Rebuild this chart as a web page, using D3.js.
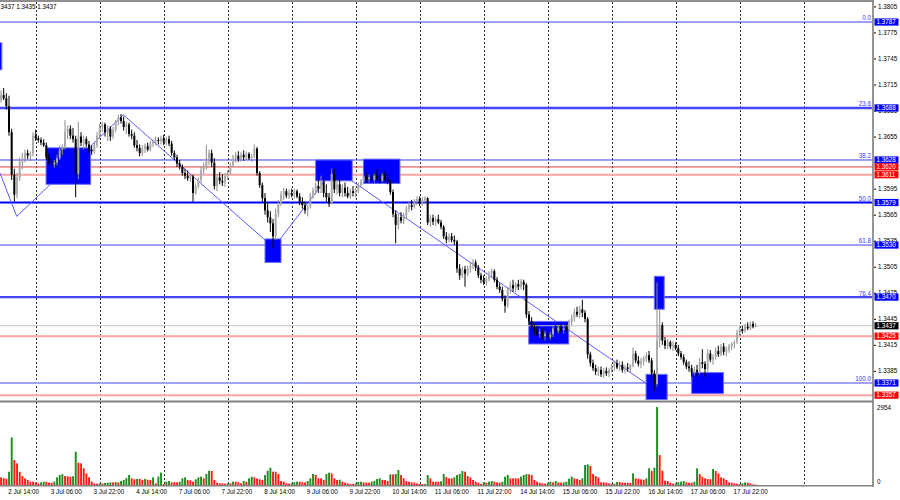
<!DOCTYPE html>
<html><head><meta charset="utf-8">
<script src="https://cdn.jsdelivr.net/npm/d3@7"></script>
<style>
html,body{margin:0;padding:0;background:#fff;}
svg{display:block;font-family:"Liberation Sans",Arial,sans-serif;}
</style></head><body>
<svg id="c" width="900" height="500"></svg>
<script>
// ---------------- DATA ----------------
const days = ["2 Jul","3 Jul","4 Jul","7 Jul","8 Jul","9 Jul","10 Jul","11 Jul","14 Jul","15 Jul","16 Jul","17 Jul","18 Jul"];
const firstHour = 11;
const timeLabels = ["2 Jul 14:00","3 Jul 06:00","3 Jul 22:00","4 Jul 14:00","7 Jul 06:00","7 Jul 22:00","8 Jul 14:00","9 Jul 06:00","9 Jul 22:00","10 Jul 14:00","11 Jul 06:00","11 Jul 22:00","14 Jul 14:00","15 Jul 06:00","15 Jul 22:00","16 Jul 14:00","17 Jul 06:00","17 Jul 22:00"];

const opens = [
1.3697,1.3703,1.3699,1.3690,1.3660,1.3611,1.3588,1.3608,1.3626,1.3630,1.3636,1.3633,1.3635,
1.3656,1.3653,1.3651,1.3648,1.3645,1.3631,1.3626,1.3623,1.3625,1.3630,1.3640,1.3642,1.3660,1.3664,1.3656,1.3652,1.3612,1.3655,1.3648,1.3652,1.3646,1.3640,1.3638,1.3645,
1.3656,1.3666,1.3669,1.3660,1.3664,1.3655,1.3663,1.3672,1.3677,1.3673,1.3666,1.3669,1.3658,1.3656,1.3645,1.3642,1.3636,1.3641,1.3644,1.3640,1.3647,1.3649,1.3651,1.3650,
1.3653,1.3649,1.3652,1.3647,1.3636,1.3631,1.3624,1.3620,1.3613,1.3610,1.3607,1.3609,1.3590,1.3598,1.3605,1.3616,1.3620,1.3630,1.3636,1.3625,1.3598,1.3608,1.3604,1.3602,
1.3610,1.3613,1.3622,1.3630,1.3633,1.3629,1.3634,1.3631,1.3635,1.3630,1.3632,1.3641,1.3613,1.3599,1.3584,1.3570,1.3562,1.3555,1.3540,1.3566,1.3578,1.3588,1.3592,1.3587,
1.3590,1.3588,1.3592,1.3586,1.3580,1.3576,1.3570,1.3574,1.3587,1.3593,1.3598,1.3595,1.3603,1.3590,1.3585,1.3578,1.3612,1.3594,1.3600,1.3590,1.3596,1.3590,1.3586,1.3592,
1.3590,1.3593,1.3599,1.3603,1.3609,1.3606,1.3608,1.3605,1.3610,1.3607,1.3604,1.3610,1.3606,1.3603,1.3591,1.3566,1.3553,1.3562,1.3558,1.3564,1.3572,1.3576,1.3574,1.3580,
1.3583,1.3578,1.3582,1.3584,1.3556,1.3561,1.3557,1.3560,1.3556,1.3551,1.3540,1.3536,1.3540,1.3536,1.3534,1.3503,1.3495,1.3502,1.3497,1.3503,1.3506,1.3510,1.3504,1.3495,
1.3490,1.3487,1.3491,1.3497,1.3500,1.3490,1.3482,1.3478,1.3468,1.3460,1.3478,1.3484,1.3480,1.3485,1.3482,1.3488,1.3484,1.3450,1.3442,1.3435,1.3431,1.3428,1.3430,1.3425,
1.3428,1.3424,1.3427,1.3434,1.3431,1.3435,1.3432,1.3434,1.3433,1.3441,1.3446,1.3453,1.3450,1.3456,1.3452,1.3445,1.3404,1.3394,1.3388,1.3384,1.3386,1.3381,1.3385,1.3382,
1.3386,1.3390,1.3394,1.3389,1.3392,1.3386,1.3389,1.3387,1.3391,1.3405,1.3397,1.3393,1.3396,1.3399,1.3403,1.3397,1.3382,1.3370,1.3420,1.3438,1.3420,1.3414,1.3418,1.3413,
1.3415,1.3411,1.3405,1.3401,1.3395,1.3390,1.3388,1.3383,1.3386,1.3384,1.3395,1.3393,1.3387,1.3405,1.3398,1.3401,1.3408,1.3404,1.3413,1.3407,1.3410,1.3413,1.3416,1.3418,
1.3429,1.3433,1.3431,1.3436,1.3434,1.3439,1.3436];
const highs = [
1.3708,1.3711,1.3705,1.3702,1.3664,1.3618,1.3613,1.3631,1.3636,1.3640,1.3640,1.3638,1.3660,
1.3663,1.3656,1.3654,1.3652,1.3648,1.3636,1.3630,1.3628,1.3634,1.3645,1.3646,1.3674,1.3668,1.3668,1.3665,1.3656,1.3672,1.3660,1.3656,1.3655,1.3650,1.3645,1.3648,1.3660,
1.3670,1.3672,1.3671,1.3668,1.3667,1.3666,1.3674,1.3680,1.3681,1.3678,1.3672,1.3671,1.3663,1.3660,1.3651,1.3646,1.3645,1.3647,1.3648,1.3650,1.3652,1.3655,1.3654,1.3656,
1.3657,1.3655,1.3656,1.3650,1.3639,1.3634,1.3628,1.3623,1.3618,1.3616,1.3612,1.3611,1.3601,1.3608,1.3620,1.3625,1.3645,1.3640,1.3640,1.3630,1.3612,1.3614,1.3612,1.3613,
1.3616,1.3625,1.3634,1.3637,1.3638,1.3637,1.3639,1.3638,1.3637,1.3635,1.3646,1.3643,1.3615,1.3602,1.3590,1.3578,1.3569,1.3560,1.3572,1.3582,1.3592,1.3596,1.3595,1.3594,
1.3595,1.3595,1.3594,1.3590,1.3585,1.3580,1.3576,1.3590,1.3596,1.3602,1.3605,1.3610,1.3608,1.3600,1.3590,1.3618,1.3618,1.3605,1.3606,1.3600,1.3602,1.3597,1.3595,1.3598,
1.3596,1.3602,1.3606,1.3612,1.3614,1.3611,1.3613,1.3612,1.3618,1.3612,1.3613,1.3615,1.3611,1.3605,1.3594,1.3570,1.3566,1.3568,1.3567,1.3575,1.3580,1.3582,1.3583,1.3586,
1.3586,1.3585,1.3586,1.3585,1.3565,1.3565,1.3563,1.3565,1.3559,1.3553,1.3545,1.3543,1.3544,1.3541,1.3536,1.3508,1.3505,1.3506,1.3506,1.3510,1.3514,1.3513,1.3507,1.3498,
1.3495,1.3494,1.3500,1.3503,1.3502,1.3493,1.3486,1.3482,1.3472,1.3482,1.3488,1.3490,1.3487,1.3490,1.3491,1.3490,1.3486,1.3454,1.3447,1.3440,1.3437,1.3434,1.3434,1.3431,
1.3433,1.3430,1.3437,1.3438,1.3437,1.3439,1.3437,1.3438,1.3444,1.3450,1.3457,1.3459,1.3460,1.3467,1.3455,1.3447,1.3407,1.3398,1.3392,1.3390,1.3390,1.3388,1.3389,1.3388,
1.3393,1.3397,1.3398,1.3396,1.3396,1.3392,1.3394,1.3393,1.3412,1.3408,1.3402,1.3400,1.3402,1.3406,1.3408,1.3400,1.3386,1.3487,1.3455,1.3441,1.3424,1.3422,1.3420,1.3419,
1.3418,1.3415,1.3408,1.3404,1.3398,1.3396,1.3392,1.3390,1.3392,1.3400,1.3410,1.3396,1.3410,1.3409,1.3404,1.3412,1.3414,1.3416,1.3417,1.3413,1.3416,1.3418,1.3420,1.3432,
1.3436,1.3437,1.3439,1.3441,1.3442,1.3442,1.3440];
const lows = [
1.3694,1.3697,1.3686,1.3656,1.3605,1.3580,1.3584,1.3604,1.3617,1.3625,1.3629,1.3627,1.3632,
1.3650,1.3648,1.3645,1.3643,1.3628,1.3622,1.3620,1.3619,1.3622,1.3628,1.3634,1.3640,1.3652,1.3652,1.3648,1.3585,1.3606,1.3644,1.3640,1.3643,1.3636,1.3634,1.3635,1.3642,
1.3652,1.3660,1.3655,1.3650,1.3650,1.3652,1.3660,1.3668,1.3670,1.3662,1.3658,1.3655,1.3652,1.3642,1.3638,1.3632,1.3633,1.3636,1.3638,1.3638,1.3643,1.3645,1.3646,1.3646,
1.3645,1.3645,1.3644,1.3633,1.3628,1.3620,1.3617,1.3610,1.3606,1.3604,1.3603,1.3580,1.3588,1.3595,1.3602,1.3612,1.3617,1.3622,1.3620,1.3594,1.3592,1.3600,1.3598,1.3597,
1.3605,1.3611,1.3620,1.3625,1.3626,1.3626,1.3627,1.3628,1.3628,1.3626,1.3630,1.3610,1.3596,1.3580,1.3565,1.3556,1.3545,1.3527,1.3536,1.3562,1.3575,1.3582,1.3584,1.3583,
1.3585,1.3584,1.3584,1.3576,1.3572,1.3566,1.3563,1.3572,1.3583,1.3588,1.3590,1.3590,1.3585,1.3580,1.3574,1.3577,1.3590,1.3588,1.3586,1.3585,1.3586,1.3584,1.3583,1.3586,
1.3585,1.3590,1.3596,1.3600,1.3603,1.3602,1.3603,1.3602,1.3604,1.3601,1.3602,1.3603,1.3600,1.3588,1.3562,1.3532,1.3548,1.3555,1.3554,1.3560,1.3568,1.3570,1.3572,1.3576,
1.3575,1.3575,1.3578,1.3553,1.3551,1.3553,1.3552,1.3554,1.3548,1.3537,1.3532,1.3533,1.3533,1.3530,1.3498,1.3490,1.3492,1.3482,1.3494,1.3498,1.3502,1.3500,1.3492,1.3486,
1.3484,1.3483,1.3488,1.3492,1.3487,1.3479,1.3475,1.3465,1.3452,1.3458,1.3474,1.3476,1.3476,1.3478,1.3479,1.3478,1.3446,1.3438,1.3431,1.3427,1.3425,1.3423,1.3422,1.3420,
1.3422,1.3421,1.3424,1.3428,1.3428,1.3429,1.3428,1.3430,1.3431,1.3437,1.3442,1.3447,1.3446,1.3447,1.3441,1.3399,1.3390,1.3385,1.3380,1.3379,1.3378,1.3377,1.3379,1.3378,
1.3383,1.3385,1.3387,1.3385,1.3383,1.3382,1.3384,1.3383,1.3389,1.3394,1.3390,1.3388,1.3391,1.3395,1.3394,1.3378,1.3363,1.3367,1.3412,1.3415,1.3410,1.3410,1.3410,1.3408,
1.3409,1.3402,1.3398,1.3392,1.3387,1.3384,1.3378,1.3380,1.3378,1.3381,1.3388,1.3378,1.3384,1.3395,1.3392,1.3398,1.3401,1.3402,1.3403,1.3402,1.3406,1.3409,1.3411,1.3416,
1.3425,1.3428,1.3429,1.3432,1.3432,1.3434,1.3435];
const closes = [
1.3703,1.3699,1.3690,1.3660,1.3611,1.3588,1.3608,1.3626,1.3630,1.3636,1.3633,1.3635,1.3656,
1.3653,1.3651,1.3648,1.3645,1.3631,1.3626,1.3623,1.3625,1.3630,1.3640,1.3642,1.3660,1.3664,1.3656,1.3652,1.3612,1.3655,1.3648,1.3652,1.3646,1.3640,1.3638,1.3645,1.3656,
1.3666,1.3669,1.3660,1.3664,1.3655,1.3663,1.3672,1.3677,1.3673,1.3666,1.3669,1.3658,1.3656,1.3645,1.3642,1.3636,1.3641,1.3644,1.3640,1.3647,1.3649,1.3651,1.3650,1.3653,
1.3649,1.3652,1.3647,1.3636,1.3631,1.3624,1.3620,1.3613,1.3610,1.3607,1.3609,1.3590,1.3598,1.3605,1.3616,1.3620,1.3630,1.3636,1.3625,1.3598,1.3608,1.3604,1.3602,1.3610,
1.3613,1.3622,1.3630,1.3633,1.3629,1.3634,1.3631,1.3635,1.3630,1.3632,1.3641,1.3613,1.3599,1.3584,1.3570,1.3562,1.3555,1.3540,1.3566,1.3578,1.3588,1.3592,1.3587,1.3590,
1.3588,1.3592,1.3586,1.3580,1.3576,1.3570,1.3574,1.3587,1.3593,1.3598,1.3595,1.3603,1.3590,1.3585,1.3578,1.3612,1.3594,1.3600,1.3590,1.3596,1.3590,1.3586,1.3592,1.3590,
1.3593,1.3599,1.3603,1.3609,1.3606,1.3608,1.3605,1.3610,1.3607,1.3604,1.3610,1.3606,1.3603,1.3591,1.3566,1.3553,1.3562,1.3558,1.3564,1.3572,1.3576,1.3574,1.3580,1.3583,
1.3578,1.3582,1.3584,1.3556,1.3561,1.3557,1.3560,1.3556,1.3551,1.3540,1.3536,1.3540,1.3536,1.3534,1.3503,1.3495,1.3502,1.3497,1.3503,1.3506,1.3510,1.3504,1.3495,1.3490,
1.3487,1.3491,1.3497,1.3500,1.3490,1.3482,1.3478,1.3468,1.3460,1.3478,1.3484,1.3480,1.3485,1.3482,1.3488,1.3484,1.3450,1.3442,1.3435,1.3431,1.3428,1.3430,1.3425,1.3428,
1.3424,1.3427,1.3434,1.3431,1.3435,1.3432,1.3434,1.3433,1.3441,1.3446,1.3453,1.3450,1.3456,1.3452,1.3445,1.3404,1.3394,1.3388,1.3384,1.3386,1.3381,1.3385,1.3382,1.3386,
1.3390,1.3394,1.3389,1.3392,1.3386,1.3389,1.3387,1.3391,1.3405,1.3397,1.3393,1.3396,1.3399,1.3403,1.3397,1.3382,1.3370,1.3420,1.3438,1.3420,1.3414,1.3418,1.3413,1.3415,
1.3411,1.3405,1.3401,1.3395,1.3390,1.3388,1.3383,1.3386,1.3384,1.3395,1.3393,1.3387,1.3405,1.3398,1.3401,1.3408,1.3404,1.3413,1.3407,1.3410,1.3413,1.3416,1.3418,1.3429,
1.3433,1.3431,1.3436,1.3434,1.3439,1.3436,1.3437];
const volumes = [
290,260,240,500,1800,945,820,500,340,250,190,130,125,
100,60,100,125,120,90,85,130,290,380,410,340,330,310,330,1260,845,820,630,440,290,130,60,50,
60,60,80,90,100,100,110,100,150,190,260,380,250,220,230,230,190,230,200,190,290,60,320,470,
40,126,151,100,100,100,126,252,290,189,180,126,214,290,315,252,416,540,530,189,88,63,63,50,
63,63,126,126,100,63,151,126,252,315,290,252,214,189,378,542,655,504,504,416,151,126,63,50,
63,100,126,126,100,100,151,252,416,378,252,252,189,416,466,441,252,189,200,126,88,63,40,40,
63,113,126,100,88,88,126,151,227,252,189,189,151,403,403,420,567,378,252,151,126,100,88,63,
38,38,40,378,252,126,126,126,140,416,300,252,252,290,378,416,529,504,340,290,189,126,88,38,
100,88,126,151,126,100,88,126,315,378,252,252,252,252,315,378,416,403,378,189,126,88,63,50,
75,126,100,151,100,88,100,126,240,315,252,227,189,252,756,781,718,416,340,290,100,100,88,63,
38,50,113,113,88,88,88,80,441,252,239,214,200,252,630,529,655,2954,1134,542,164,151,88,50,
63,100,126,151,100,88,88,126,630,416,315,252,227,220,605,529,441,290,252,189,100,88,63,50,
38,63,100,88,63,25,15];

const fibNames  = ["0.0","23.6","38.2","50.0","61.8","76.4","100.0"];
const fibLevels = [1.3787,1.3688,1.3628,1.3579,1.3530,1.3470,1.3371];
const redLevels = [1.3620,1.3611,1.3425,1.3357];
const bidPrice = 1.3437;
const priceTicks = [1.3805,1.3775,1.3745,1.3715,1.3685,1.3655,1.3595,1.3565,1.3535,1.3505,1.3475,1.3445,1.3415,1.3385];
const volTicks = [2954,0];
const zigBars   = [-0.4,5.9,45.9,102.2,124.9,244.6];
const zigPrices = [1.3613,1.3563,1.3680,1.3527,1.3618,1.3365];
const boxFromBar = [-5,16.9,99.0,118.0,135.9,197.9,245.0,241.9,259.0];
const boxToBar   = [0.3,33.6,105.0,131.7,149.6,212.9,248.7,249.8,270.9];
const boxHigh    = [1.3763,1.3642,1.3537,1.3628,1.3629,1.3442,1.3494,1.3381,1.3383];
const boxLow     = [1.3732,1.3600,1.3510,1.3604,1.3601,1.3416,1.3456,1.3352,1.3359];
const headerText = "3437 1.3435 1.3437";

// ---------------- STYLES ----------------
const fibStyle = {"0.0":[1,"#3c3cff"],"23.6":[2.4,"#4646ff"],"38.2":[1,"#3c3cff"],"50.0":[2,"#0000ff"],"61.8":[1,"#3c3cff"],"76.4":[2.2,"#4646ff"],"100.0":[2,"#a0a0ff"]};
const redStyle = [[1,"#e03a3a"],[2,"#ffa4a4"],[2,"#ffa4a4"],[2,"#ffa4a4"]];
const FS = 6.3;
const plotR = 873;

// ---------------- SCALES ----------------
const svg = d3.select("#c");
const xs = d3.scaleLinear().domain([0,300]).range([1,801]);
const ys = d3.scaleLinear().domain([1.3355,1.3805]).range([396.9,6.4]);
const vs = d3.scaleLinear().domain([0,2954]).range([485,407]);

const defs = svg.append("defs");
defs.append("clipPath").attr("id","pp").append("rect").attr("x",0).attr("y",2).attr("width",plotR).attr("height",398);
defs.append("clipPath").attr("id","vp").append("rect").attr("x",0).attr("y",403).attr("width",plotR).attr("height",82);

svg.append("rect").attr("width",900).attr("height",500).attr("fill","#fff");

// time structure
const hourOf = i => (firstHour + i) % 24;
const dayOf = i => Math.floor((firstHour + i) / 24);
const barLabel = i => days[dayOf(i)] + " " + String(hourOf(i)).padStart(2,"0") + ":00";
const gridBars = d3.range(0, 340).filter(i => hourOf(i) === 0 && xs(i) < 860);
const labelBars = timeLabels.map(t => d3.range(0, closes.length).find(i => barLabel(i) === t));

// grid
svg.append("g").selectAll("line").data(gridBars).join("line")
  .attr("x1", d => Math.round(xs(d)) + 0.5).attr("x2", d => Math.round(xs(d)) + 0.5)
  .attr("y1", 2).attr("y2", 485)
  .attr("stroke", "#303030").attr("stroke-width", 1).attr("stroke-dasharray", "2,2");

const pp = svg.append("g").attr("clip-path","url(#pp)");

// horizontal levels
pp.append("g").selectAll("line").data(fibLevels).join("line")
  .attr("x1",0).attr("x2",plotR)
  .attr("y1", d => ys(d)).attr("y2", d => ys(d))
  .attr("stroke", (d,k) => fibStyle[fibNames[k]][1])
  .attr("stroke-width", (d,k) => fibStyle[fibNames[k]][0]);
pp.append("g").selectAll("line").data(redLevels).join("line")
  .attr("x1",0).attr("x2",plotR)
  .attr("y1", d => ys(d)).attr("y2", d => ys(d))
  .attr("stroke", (d,k) => redStyle[k][1])
  .attr("stroke-width", (d,k) => redStyle[k][0]);

// zigzag
const zig = zigBars.map((b,k) => [xs(b), ys(zigPrices[k])]);
pp.append("path").attr("d", d3.line()(zig)).attr("fill","none")
  .attr("stroke","#5c5cff").attr("stroke-width",1);

// rectangles
pp.append("g").selectAll("rect").data(boxFromBar).join("rect")
  .attr("x", (d,k) => xs(d)).attr("width", (d,k) => xs(boxToBar[k]) - xs(d))
  .attr("y", (d,k) => ys(boxHigh[k])).attr("height", (d,k) => ys(boxLow[k]) - ys(boxHigh[k]))
  .attr("fill","#0000ff").attr("stroke","#6a6aff").attr("stroke-width",1);

// bid line
pp.append("line").attr("x1",0).attr("x2",plotR).attr("y1",ys(bidPrice)).attr("y2",ys(bidPrice))
  .attr("stroke","#c4c4c4").attr("stroke-width",1);

// candles
const idx = d3.range(closes.length);
const cg = pp.append("g");
cg.selectAll("line").data(idx).join("line")
  .attr("x1", i => xs(i)).attr("x2", i => xs(i))
  .attr("y1", i => ys(highs[i])).attr("y2", i => ys(lows[i]))
  .attr("stroke", i => closes[i] >= opens[i] ? "#8c8c8c" : "#000")
  .attr("stroke-width", 1);
cg.selectAll("rect").data(idx).join("rect")
  .attr("x", i => xs(i) - 1).attr("width", 2)
  .attr("y", i => ys(Math.max(opens[i], closes[i])))
  .attr("height", i => Math.max(0.8, Math.abs(ys(opens[i]) - ys(closes[i]))))
  .attr("fill", i => closes[i] >= opens[i] ? "#ababab" : "#000");

// volumes
const vp = svg.append("g").attr("clip-path","url(#vp)");
vp.selectAll("rect").data(idx).join("rect")
  .attr("x", i => xs(i) - 0.9).attr("width", 1.9)
  .attr("y", i => vs(volumes[i])).attr("height", i => vs(0) - vs(volumes[i]))
  .attr("fill", i => (i > 0 && volumes[i] > volumes[i-1]) ? "#1c8c1c" : "#ff1a1a");

// frame
svg.append("line").attr("x1",0).attr("x2",plotR+1).attr("y1",1).attr("y2",1).attr("stroke","#6a6a6a").attr("stroke-width",1.5);
svg.append("line").attr("x1",plotR).attr("x2",plotR).attr("y1",0).attr("y2",487).attr("stroke","#8a8a8a").attr("stroke-width",1.8);
svg.append("line").attr("x1",0).attr("x2",plotR).attr("y1",401.5).attr("y2",401.5).attr("stroke","#808080").attr("stroke-width",2.2);
svg.append("line").attr("x1",0).attr("x2",plotR).attr("y1",485.8).attr("y2",485.8).attr("stroke","#808080").attr("stroke-width",1.6);

// fib labels
svg.append("g").selectAll("text").data(fibLevels).join("text")
  .attr("x", 871).attr("y", d => ys(d) - 1.6)
  .attr("text-anchor","end").attr("font-size",FS).attr("fill","#3c3cff")
  .text((d,k) => fibNames[k]);

// price axis
const pAxis = d3.axisRight(ys).tickValues(priceTicks).tickSize(2).tickPadding(2).tickFormat(d3.format(".4f"));
const pa = svg.append("g").attr("transform",`translate(${plotR+1},0)`).call(pAxis);
pa.select(".domain").remove();
pa.selectAll("line").attr("stroke","#000");
pa.selectAll("text").attr("font-size",FS).attr("font-family","Liberation Sans, Arial, sans-serif").attr("fill","#000");

// volume axis
const vAxis = d3.axisRight(vs).tickValues(volTicks).tickSize(0).tickPadding(3).tickFormat(d3.format("d"));
const va = svg.append("g").attr("transform",`translate(${plotR+1},0)`).call(vAxis);
va.select(".domain").remove();
va.selectAll("text").attr("font-size",FS).attr("font-family","Liberation Sans, Arial, sans-serif").attr("fill","#000")
  .attr("dy", d => d === 0 ? "-0.2em" : "0.32em");

// price boxes
const boxes = fibLevels.map(p => [p,"#0000ff"]).concat(redLevels.map(p => [p,"#ff0000"])).concat([[bidPrice,"#000"]]);
const bg = svg.append("g");
bg.selectAll("rect").data(boxes).join("rect")
  .attr("x", plotR + 1.5).attr("width", 24).attr("y", d => ys(d[0]) - 3.6).attr("height", 7.2)
  .attr("fill", d => d[1]);
bg.selectAll("text").data(boxes).join("text")
  .attr("x", plotR + 3.5).attr("y", d => ys(d[0]) + 2.2)
  .attr("font-size", FS).attr("fill","#fff").text(d => d3.format(".4f")(d[0]));

// time axis
const tAxis = d3.axisBottom(xs).tickValues(labelBars).tickSize(0).tickPadding(0)
  .tickFormat((d,k) => timeLabels[k]);
const ta = svg.append("g").attr("transform","translate(0,486)").call(tAxis);
ta.select(".domain").remove();
ta.selectAll("text").attr("text-anchor","start").attr("font-size",FS)
  .attr("font-family","Liberation Sans, Arial, sans-serif").attr("fill","#000")
  .attr("dx","-1.3").attr("dy","0").attr("y",8);

// header
svg.append("text").attr("x",0.5).attr("y",9).attr("font-size",FS).attr("fill","#000").text(headerText);
</script>
</body></html>
